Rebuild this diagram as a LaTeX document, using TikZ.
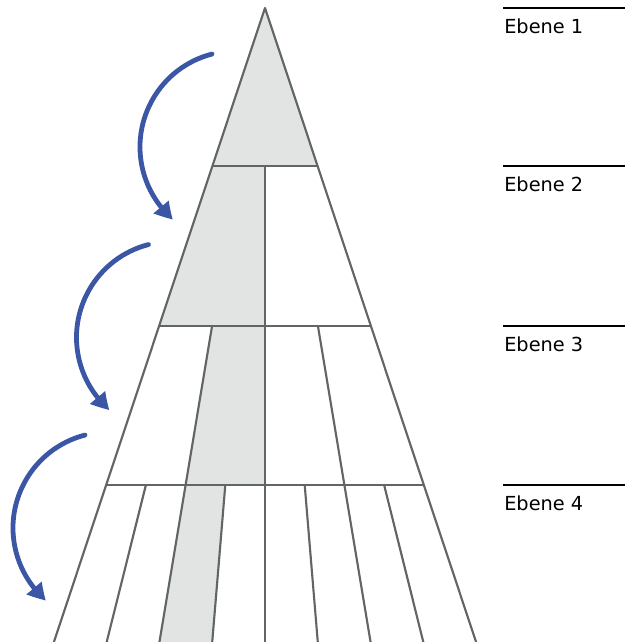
\documentclass[tikz,border=0pt]{standalone}
\usepackage{fontspec}
\setmainfont{DejaVu Sans}
\usetikzlibrary{calc,arrows.meta,bending}
\definecolor{lineg}{HTML}{626662}
\definecolor{fillg}{HTML}{E2E3E3}
\definecolor{arrblue}{HTML}{3A56A5}
\tikzset{
  pyr/.style={draw=lineg, line width=1.6pt},
  shade/.style={fill=fillg},
  arr/.style={draw=arrblue, line width=3.6pt, line cap=round, -{Triangle[length=13pt,width=14pt,bend]}},
  lvl/.style={draw=black, line width=0.8pt},
  lbl/.style={anchor=base west, inner sep=0pt, font=\fontsize{14.5pt}{16pt}\selectfont}
}
\begin{document}
\begin{tikzpicture}[x=0.75pt,y=0.75pt]
\useasboundingbox (0,0) rectangle (625,642);
\begin{scope}
\clip (0,0) rectangle (625,642);
% triangle corners
\coordinate (T) at (265,634);
\coordinate (L1) at (212.4,476); \coordinate (R1) at (317.6,476);
\coordinate (L2) at (159.1,316); \coordinate (R2) at (370.9,316);
\coordinate (L3) at (106.2,157); \coordinate (R3) at (423.8,157);
\coordinate (L4) at (53.9,0);    \coordinate (R4) at (476.1,0);
% shaded parts
\fill[shade] (T) -- (L1) -- (R1) -- cycle;
\fill[shade] (L1) -- ($(L1)!0.5!(R1)$) -- ($(L2)!0.5!(R2)$) -- (L2) -- cycle;
\fill[shade] ($(L2)!0.25!(R2)$) -- ($(L2)!0.5!(R2)$) -- ($(L3)!0.5!(R3)$) -- ($(L3)!0.25!(R3)$) -- cycle;
\fill[shade] ($(L3)!0.25!(R3)$) -- ($(L3)!0.375!(R3)$) -- ($(L4)!0.375!(R4)$) -- ($(L4)!0.25!(R4)$) -- cycle;
% outline and levels
\draw[pyr, line join=round] (L4) -- (T) -- (R4);
\draw[pyr] (L1) -- (R1);
\draw[pyr] (L2) -- (R2);
\draw[pyr] (L3) -- (R3);
% centre line
\draw[pyr] ($(L1)!0.5!(R1)$) -- ($(L4)!0.5!(R4)$);
% level 3 dividers
\foreach \f in {0.25,0.75}
  \draw[pyr] ($(L2)!\f!(R2)$) -- ($(L3)!\f!(R3)$);
% level 4 dividers
\foreach \f in {0.125,0.25,0.375,0.625,0.75,0.875}
  \draw[pyr] ($(L3)!\f!(R3)$) -- ($(L4)!\f!(R4)$);
\end{scope}
% arrows
\coordinate (C1) at (236,495);
\coordinate (C2) at (172.5,304.5);
\coordinate (C3) at (109,114);
\foreach \c in {C1,C2,C3}
  \draw[arr] ([shift={(104.5:72pt)}]\c) arc[start angle=104.5, end angle=229, radius=72pt];
% level labels
\foreach \y/\n in {634/1,476/2,316/3,157/4}{
  \draw[lvl] (503,\y) -- (625,\y);
  \node[lbl] (e\n) at (504,\y-26) {Ebene \n};
}
\end{tikzpicture}
\end{document}
